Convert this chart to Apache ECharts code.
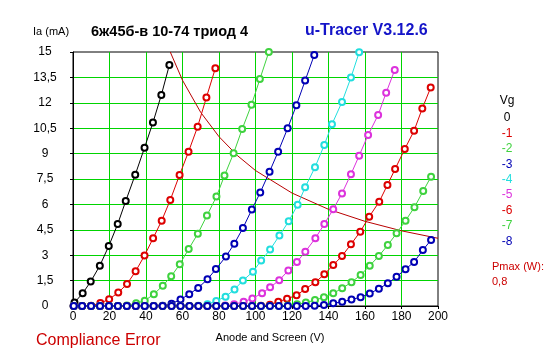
<!DOCTYPE html>
<html><head><meta charset="utf-8">
<script src="https://cdn.jsdelivr.net/npm/echarts@6/dist/echarts.min.js"></script>
<style>html,body{margin:0;padding:0;background:#fff}#c{width:547px;height:357px}</style>
</head><body><div id="c"></div>
<script>
// Anode current (mA) vs anode voltage (V) for each grid voltage Vg
const vgLabels = ['0', '-1', '-2', '-3', '-4', '-5', '-6', '-7', '-8'];
const vg0 = [[0.8,0.2],[5.3,0.75],[9.7,1.44],[14.7,2.38],[19.6,3.54],[24.5,4.84],[28.9,6.2],[34.1,7.75],[39.2,9.35],[43.8,10.83],[48.4,12.46],[52.8,14.23]];
const vg1 = [[0.4,0],[5.0,0],[9.9,0.02],[15.0,0.17],[19.8,0.4],[24.8,0.79],[29.6,1.3],[34.3,2.05],[39.2,2.98],[43.9,4.0],[48.6,5.04],[53.3,6.26],[58.4,7.74],[63.3,9.11],[68.3,10.59],[73.1,12.32],[78.0,14.04]];
const vg2 = [[0.4,0],[5.0,0],[9.9,0],[14.8,0],[19.7,0],[24.6,0],[29.5,0.03],[34.6,0.16],[39.3,0.31],[44.3,0.7],[49.2,1.2],[53.8,1.75],[58.5,2.46],[63.4,3.37],[68.4,4.27],[73.4,5.34],[78.6,6.46],[83.0,7.7],[88.0,9.02],[92.7,10.45],[97.8,11.88],[102.4,13.4],[107.3,15.0]];
const vg3 = [[0.4,0],[5.0,0],[9.9,0],[14.8,0],[19.7,0],[24.6,0],[29.5,0],[34.4,0],[39.3,0],[44.2,0],[49.1,0.02],[54.0,0.14],[58.9,0.38],[63.7,0.7],[68.6,1.07],[73.7,1.58],[78.3,2.18],[83.8,2.92],[88.4,3.68],[93.1,4.6],[98.0,5.7],[102.6,6.7],[107.7,7.93],[112.4,9.11],[117.6,10.49],[122.4,11.85],[127.2,13.31],[132.2,14.82]];
const vg4 = [[0.4,0],[5.0,0],[9.9,0],[14.8,0],[19.7,0],[24.6,0],[29.5,0],[34.4,0],[39.3,0],[44.2,0],[49.1,0],[54.0,0],[58.9,0],[63.8,0],[68.7,0.02],[73.7,0.1],[78.5,0.3],[83.6,0.55],[88.5,0.98],[93.1,1.5],[98.6,2.03],[103.1,2.68],[108.0,3.33],[113.1,4.16],[118.2,5.0],[123.1,5.98],[127.2,7.01],[132.6,8.19],[137.7,9.51],[141.9,10.73],[147.4,12.05],[152.3,13.49],[156.8,14.98]];
const vg5 = [[0.4,0],[5.0,0],[9.9,0],[14.8,0],[19.7,0],[24.6,0],[29.5,0],[34.4,0],[39.3,0],[44.2,0],[49.1,0],[54.0,0],[58.9,0],[63.8,0],[68.7,0],[73.6,0],[78.5,0],[83.4,0.03],[88.3,0.1],[93.5,0.25],[98.3,0.45],[103.6,0.75],[108.0,1.1],[113.0,1.52],[118.0,2.1],[122.7,2.6],[127.3,3.21],[132.8,4.0],[137.7,4.84],[142.6,5.71],[147.4,6.65],[152.3,7.78],[156.8,8.88],[161.7,10.1],[167.2,11.28],[171.6,12.6],[176.3,13.94]];
const vg6 = [[0.4,0],[5.0,0],[9.9,0],[14.8,0],[19.7,0],[24.6,0],[29.5,0],[34.4,0],[39.3,0],[44.2,0],[49.1,0],[54.0,0],[58.9,0],[63.8,0],[68.7,0],[73.6,0],[78.5,0],[83.4,0],[88.3,0],[93.2,0],[98.1,0],[103.0,0.02],[107.9,0.08],[112.5,0.25],[117.3,0.43],[122.5,0.63],[127.2,1.0],[132.8,1.4],[137.7,1.87],[142.6,2.42],[147.4,2.95],[152.3,3.64],[157.4,4.39],[162.3,5.27],[167.8,6.16],[172.3,7.15],[176.5,8.09],[181.8,9.27],[186.9,10.35],[191.4,11.67],[196.0,12.9]];
const vg7 = [[0.4,0],[5.0,0],[9.9,0],[14.8,0],[19.7,0],[24.6,0],[29.5,0],[34.4,0],[39.3,0],[44.2,0],[49.1,0],[54.0,0],[58.9,0],[63.8,0],[68.7,0],[73.6,0],[78.5,0],[83.4,0],[88.3,0],[93.2,0],[98.1,0],[103.0,0],[107.9,0],[112.8,0],[117.7,0.03],[122.8,0.1],[127.6,0.2],[132.6,0.35],[137.5,0.51],[142.6,0.75],[147.5,1.05],[152.6,1.4],[157.6,1.83],[162.6,2.38],[167.6,2.95],[172.5,3.6],[177.3,4.29],[182.2,5.04],[187.1,5.83],[191.9,6.79],[196.2,7.64]];
const vg8 = [[0.4,0],[5.0,0],[9.9,0],[14.8,0],[19.7,0],[24.6,0],[29.5,0],[34.4,0],[39.3,0],[44.2,0],[49.1,0],[54.0,0],[58.9,0],[63.8,0],[68.7,0],[73.6,0],[78.5,0],[83.4,0],[88.3,0],[93.2,0],[98.1,0],[103.0,0],[107.9,0],[112.8,0],[117.7,0],[122.6,0],[127.5,0],[132.4,0.02],[137.5,0.06],[142.6,0.16],[147.5,0.25],[152.6,0.38],[157.6,0.52],[162.6,0.74],[167.6,1.02],[172.5,1.34],[177.3,1.73],[182.2,2.17],[186.9,2.6],[191.7,3.3],[196.2,3.9]];
// Pmax = 0.8 W dissipation limit curve
const pmaxCurve = [[53.3,15],[60,13.33],[70,11.43],[80,10],[90,8.89],[100,8],[120,6.67],[140,5.71],[160,5],[180,4.44],[200,4]];
const xTicks = [0, 20, 40, 60, 80, 100, 120, 140, 160, 180, 200];
const yTicks = ['0', '1,5', '3', '4,5', '6', '7,5', '9', '10,5', '12', '13,5', '15'];

const curves = [vg0, vg1, vg2, vg3, vg4, vg5, vg6, vg7, vg8];
const colors = ['#000000', '#dd0000', '#3fd23f', '#0000b4', '#22dede', '#dc32dc', '#dd0000', '#3fd23f', '#0000b4'];
const FONT = '"Liberation Sans", Arial, sans-serif';

const series = curves.map((d, i) => ({
  name: vgLabels[i], type: 'line', data: d, smooth: false,
  symbol: 'emptyCircle', symbolSize: 6, showAllSymbol: true,
  lineStyle: { color: colors[i], width: 1 },
  itemStyle: { color: colors[i], borderColor: colors[i], borderWidth: 1 },
  z: 3 + i
}));
series.unshift({
  name: 'Pmax', type: 'line', data: pmaxCurve, symbol: 'none', smooth: false,
  lineStyle: { color: '#b80000', width: 1 }, z: 2
});

const graphic = [
  { type: 'text', left: 33, top: 26, style: { text: 'Ia (mA)', font: '11px ' + FONT, fill: '#000' } },
  { type: 'text', left: 91, top: 24, style: { text: '6ж45б-в 10-74 триод 4', font: 'bold 14.5px ' + FONT, fill: '#000' } },
  { type: 'text', left: 305, top: 23, style: { text: 'u-Tracer V3.12.6', font: 'bold 16px ' + FONT, fill: '#1414c8' } },
  { type: 'text', x: 270, y: 338, style: { text: 'Anode and Screen (V)', font: '11px ' + FONT, fill: '#000', align: 'center', verticalAlign: 'middle' } },
  { type: 'text', x: 36, y: 341, style: { text: 'Compliance Error', font: '16px ' + FONT, fill: '#cc0000', verticalAlign: 'middle' } },
  { type: 'text', x: 507, y: 101, style: { text: 'Vg', font: '12px ' + FONT, fill: '#000', align: 'center', verticalAlign: 'middle' } },
  { type: 'text', x: 492, y: 267, style: { text: 'Pmax (W):', font: '11px ' + FONT, fill: '#cc0000', verticalAlign: 'middle' } },
  { type: 'text', x: 492, y: 282, style: { text: '0,8', font: '11px ' + FONT, fill: '#cc0000', verticalAlign: 'middle' } }
];
vgLabels.forEach((t, i) => {
  graphic.push({ type: 'text', x: 507, y: 118 + i * 15.4,
    style: { text: t, font: '12px ' + FONT, fill: colors[i], align: 'center', verticalAlign: 'middle' } });
});

const chart = echarts.init(document.getElementById('c'), null, { renderer: 'canvas' });
chart.setOption({
  animation: false,
  backgroundColor: '#fff',
  grid: { left: 73, top: 52, right: 109, bottom: 51, show: true, borderColor: '#000', borderWidth: 1, backgroundColor: 'transparent' },
  xAxis: {
    type: 'value', min: xTicks[0], max: xTicks[xTicks.length - 1], interval: xTicks[1] - xTicks[0],
    axisLine: { show: true, onZero: false, lineStyle: { color: '#000', width: 1 } },
    axisTick: { show: true, length: 3, lineStyle: { color: '#000' } },
    axisLabel: { color: '#000', fontFamily: FONT, fontSize: 12, margin: 5 },
    splitLine: { show: true, showMinLine: false, showMaxLine: false, lineStyle: { color: '#00d400', width: 1 } }
  },
  yAxis: {
    type: 'value', min: 0, max: 15, interval: 1.5,
    axisLine: { show: true, onZero: false, lineStyle: { color: '#000', width: 1 } },
    axisTick: { show: true, length: 3, lineStyle: { color: '#000' } },
    axisLabel: { color: '#000', fontFamily: FONT, fontSize: 12, margin: 28, align: 'center',
      formatter: (v) => yTicks[Math.round(v / 1.5)] },
    splitLine: { show: true, showMinLine: false, showMaxLine: false, lineStyle: { color: '#00d400', width: 1 } }
  },
  graphic: graphic,
  series: series
});
</script></body></html>
